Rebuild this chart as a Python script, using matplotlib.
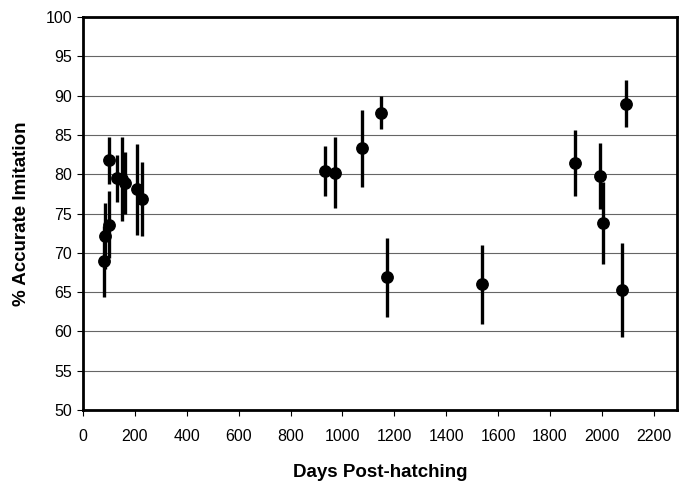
import matplotlib
matplotlib.use("Agg")
import matplotlib.pyplot as plt

# values
days = [82, 84, 99, 102, 131, 151, 161, 209, 228,
        933, 972, 1074, 1150, 1173, 1537,
        1898, 1991, 2004, 2076, 2094]
acc = [68.9, 72.2, 73.6, 81.8, 79.5, 79.4, 78.9, 78.1, 76.9,
       80.4, 80.2, 83.3, 87.8, 66.9, 66.0,
       81.4, 79.8, 73.8, 65.3, 89.0]
err = [4.5, 4.2, 4.3, 3.0, 3.0, 5.3, 3.9, 5.8, 4.7,
       3.2, 4.5, 4.9, 2.1, 5.0, 5.0,
       4.2, 4.2, 5.2, 6.0, 3.0]
xticks = list(range(0, 2201, 200))
yticks = list(range(50, 101, 5))

plt.rcParams['font.family'] = ['Liberation Sans', 'DejaVu Sans']

fig = plt.figure(figsize=(6.86, 4.87), dpi=100)
ax = fig.add_axes([0.121, 0.158, 0.866, 0.807])

ax.errorbar(days, acc, yerr=err, fmt='o', color='black', ms=8.2,
            elinewidth=2.4, capsize=0, zorder=3)

ax.set_xlim(0, 2290)
ax.set_ylim(50, 100)
ax.set_xticks(xticks)
ax.set_yticks(yticks)
ax.yaxis.grid(True, color='#666666', linewidth=0.8)
ax.set_axisbelow(True)
for s in ax.spines.values():
    s.set_linewidth(2)
ax.tick_params(axis='both', labelsize=11.5, length=4, width=0.8, pad=4)
ax.tick_params(axis='x', pad=10)

ax.set_xlabel('Days Post-hatching', fontsize=13.5, fontweight='bold', labelpad=14)
ax.set_ylabel('% Accurate Imitation', fontsize=13.5, fontweight='bold', labelpad=11)

fig.savefig('out.png', dpi=100)
